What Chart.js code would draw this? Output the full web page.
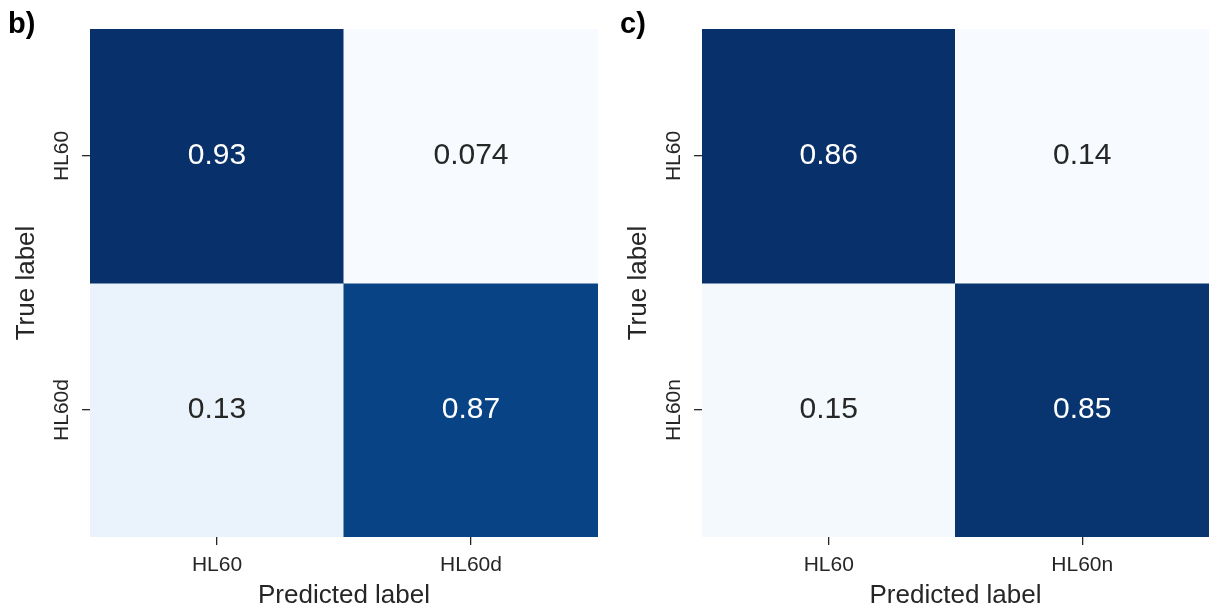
<!DOCTYPE html>
<html>
<head>
<meta charset="utf-8">
<script src="https://cdn.jsdelivr.net/npm/chart.js@4.4.1/dist/chart.umd.min.js"></script>
<style>
  html, body { margin: 0; padding: 0; background: #ffffff; }
  #wrap { position: relative; width: 1211px; height: 610px; overflow: hidden; }
  canvas { position: absolute; top: 0; }
  #cmB { left: 0; }
  #cmC { left: 612px; }
</style>
</head>
<body>
<div id="wrap">
  <canvas id="cmB" width="605" height="610"></canvas>
  <canvas id="cmC" width="599" height="610"></canvas>
</div>
<script>
// Panel b): HL60 vs HL60d
const predictedB = ['HL60', 'HL60d'];
const trueB = ['HL60', 'HL60d'];
const rowB_HL60 = [0.93, 0.074];
const rowB_HL60d = [0.13, 0.87];

// Panel c): HL60 vs HL60n
const predictedC = ['HL60', 'HL60n'];
const trueC = ['HL60', 'HL60n'];
const rowC_HL60 = [0.86, 0.14];
const rowC_HL60n = [0.15, 0.85];

const FONT = "'Liberation Sans', Arial, Helvetica, sans-serif";
const INK = '#262626';

// Sequential "Blues" colour ramp
const BLUES = ['#f7fbff', '#deebf7', '#c6dbef', '#9ecae1', '#6baed6', '#4292c6', '#2171b5', '#08519c', '#08306b'];
function hexToRgb(h) {
  return [parseInt(h.slice(1, 3), 16), parseInt(h.slice(3, 5), 16), parseInt(h.slice(5, 7), 16)];
}
function blues(t) {
  t = Math.max(0, Math.min(1, t));
  const pos = t * (BLUES.length - 1);
  const i = Math.min(Math.floor(pos), BLUES.length - 2);
  const f = pos - i;
  const a = hexToRgb(BLUES[i]), b = hexToRgb(BLUES[i + 1]);
  const c = a.map((v, k) => Math.round(v + (b[k] - v) * f));
  return 'rgb(' + c.join(',') + ')';
}

// Cell value labels, white on dark cells
const cellLabels = {
  id: 'cellLabels',
  afterDatasetsDraw(chart) {
    const ctx = chart.ctx;
    const { lo, hi } = chart.options.plugins.cellLabels;
    ctx.save();
    ctx.font = '30px ' + FONT;
    ctx.textAlign = 'center';
    ctx.textBaseline = 'middle';
    chart.data.datasets.forEach((ds, di) => {
      const meta = chart.getDatasetMeta(di);
      meta.data.forEach((el, i) => {
        const v = ds.values[i];
        const t = (v - lo) / (hi - lo);
        ctx.fillStyle = t > 0.5 ? '#ffffff' : INK;
        ctx.fillText(String(v), el.x, (el.y + el.base) / 2);
      });
    });
    ctx.restore();
  }
};

// Rotated row labels on the left axis, plus the panel letter
const rowLabels = {
  id: 'rowLabels',
  afterDraw(chart) {
    const ctx = chart.ctx;
    const opts = chart.options.plugins.rowLabels;
    const y = chart.scales.y;
    ctx.save();
    ctx.fillStyle = INK;
    ctx.font = '21px ' + FONT;
    ctx.textAlign = 'center';
    ctx.textBaseline = 'alphabetic';
    y.ticks.forEach((tk, i) => {
      const py = y.getPixelForValue(tk.value);
      ctx.save();
      ctx.translate(chart.chartArea.left - 22, py);
      ctx.rotate(-Math.PI / 2);
      ctx.fillText(opts.labels[i], 0, 0);
      ctx.restore();
    });
    ctx.fillStyle = '#000000';
    ctx.font = 'bold 29px ' + FONT;
    ctx.textAlign = 'left';
    ctx.fillText(opts.panel, 8, 33);
    ctx.restore();
  }
};

function buildMatrix(canvasId, predicted, trueLabels, rows, panel, padRight) {
  const all = rows.flat();
  const lo = Math.min(...all), hi = Math.max(...all);
  const n = trueLabels.length;
  // first row sits at the top of the grid
  const datasets = rows.map((vals, r) => {
    const bottom = n - 1 - r;
    return {
      label: trueLabels[r],
      values: vals,
      data: vals.map(() => [bottom, bottom + 1]),
      backgroundColor: vals.map(v => blues((v - lo) / (hi - lo))),
      borderWidth: 0,
      borderSkipped: false,
      inflateAmount: 0.5,
      grouped: false,
      barPercentage: 1,
      categoryPercentage: 1
    };
  });
  // y tick labels, bottom to top
  const yLabels = trueLabels.slice().reverse();
  return new Chart(document.getElementById(canvasId), {
    type: 'bar',
    data: { labels: predicted, datasets },
    options: {
      responsive: false,
      animation: false,
      events: [],
      layout: { padding: { top: 29, right: padRight, bottom: 0, left: 0 } },
      plugins: {
        legend: { display: false },
        tooltip: { enabled: false },
        cellLabels: { lo, hi },
        rowLabels: { labels: yLabels, panel }
      },
      scales: {
        x: {
          type: 'category',
          offset: true,
          border: { display: false },
          grid: { drawOnChartArea: false, drawTicks: true, tickLength: 8, offset: false, color: INK, lineWidth: 1.3 },
          ticks: { color: INK, font: { family: FONT, size: 21 }, padding: 8, maxRotation: 0 },
          title: { display: true, text: 'Predicted label', color: INK, font: { family: FONT, size: 26, lineHeight: 1.1 }, padding: { top: 0, bottom: 0 } },
          afterFit(scale) { scale.height = 73; }
        },
        y: {
          type: 'linear',
          min: 0,
          max: n,
          border: { display: false },
          grid: { drawOnChartArea: false, drawTicks: true, tickLength: 8, color: INK, lineWidth: 1.3 },
          ticks: { display: false },
          afterBuildTicks(scale) {
            scale.ticks = yLabels.map((_, i) => ({ value: i + 0.5 }));
          },
          title: { display: true, text: 'True label', color: INK, font: { family: FONT, size: 26, lineHeight: 1.1 }, padding: { top: 13, bottom: 0 } },
          afterFit(scale) { scale.width = 90; }
        }
      }
    },
    plugins: [cellLabels, rowLabels]
  });
}

buildMatrix('cmB', predictedB, trueB, [rowB_HL60, rowB_HL60d], 'b)', 7);
buildMatrix('cmC', predictedC, trueC, [rowC_HL60, rowC_HL60n], 'c)', 2);
</script>
</body>
</html>
